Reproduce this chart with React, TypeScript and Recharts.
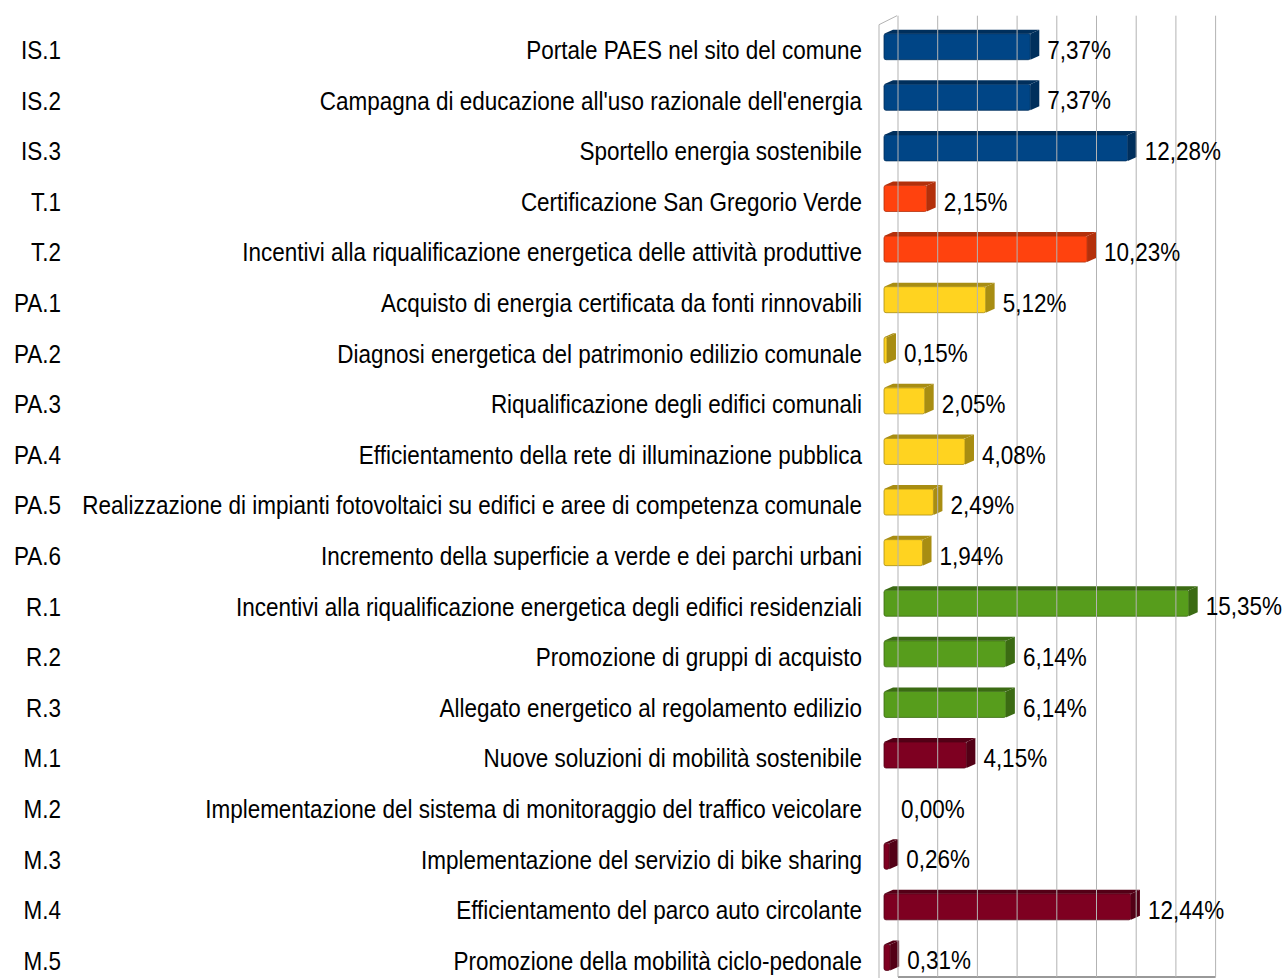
import { BarChart, Bar, XAxis, YAxis, ReferenceLine, ReferenceArea, LabelList } from "recharts";

const codes = [
  "IS.1", "IS.2", "IS.3", "T.1", "T.2", "PA.1", "PA.2", "PA.3", "PA.4", "PA.5",
  "PA.6", "R.1", "R.2", "R.3", "M.1", "M.2", "M.3", "M.4", "M.5",
];

const descriptions = [
  "Portale PAES nel sito del comune",
  "Campagna di educazione all'uso razionale dell'energia",
  "Sportello energia sostenibile",
  "Certificazione San Gregorio Verde",
  "Incentivi alla riqualificazione energetica delle attività produttive",
  "Acquisto di energia certificata da fonti rinnovabili",
  "Diagnosi energetica del patrimonio edilizio comunale",
  "Riqualificazione degli edifici comunali",
  "Efficientamento della rete di illuminazione pubblica",
  "Realizzazione di impianti fotovoltaici su edifici e aree di competenza comunale",
  "Incremento della superficie a verde e dei parchi urbani",
  "Incentivi alla riqualificazione energetica degli edifici residenziali",
  "Promozione di gruppi di acquisto",
  "Allegato energetico al regolamento edilizio",
  "Nuove soluzioni di mobilità sostenibile",
  "Implementazione del sistema di monitoraggio del traffico veicolare",
  "Implementazione del servizio di bike sharing",
  "Efficientamento del parco auto circolante",
  "Promozione della mobilità ciclo-pedonale",
];

const values = [
  7.37, 7.37, 12.28, 2.15, 10.23, 5.12, 0.15, 2.05, 4.08, 2.49,
  1.94, 15.35, 6.14, 6.14, 4.15, 0.0, 0.26, 12.44, 0.31,
];

const xTicks = [0, 2, 4, 6, 8, 10, 12, 14, 16];

// front / side colour per action group
const groupColors: Record<string, [string, string]> = {
  IS: ["#004586", "#002f5c"],
  T: ["#ff420e", "#b3300b"],
  PA: ["#ffd320", "#a88d12"],
  R: ["#579d1c", "#3b6b13"],
  M: ["#7e0021", "#530016"],
};

const data = codes.map((code, i) => ({ code, desc: descriptions[i], value: values[i] }));

const FONT = "'Liberation Sans', Arial, sans-serif";
const SX = 0.865; // the original font is a narrowed Arial
const DX = 18; // depth of the back wall
const DY = 9;

const fmt = (v: number) => v.toFixed(2).replace(".", ",") + "%";

function Bar3D(props: any) {
  const { x, y, width, height, payload } = props;
  if (!width || width <= 0) return null;
  const [front, side] = groupColors[payload.code.split(".")[0]];
  const fx = x + 4;
  const fy = y - 3;
  const d = 9;
  const e = 4;
  return (
    <g>
      <path
        d={`M${fx},${fy} L${fx + d},${fy - e} L${fx + width + d},${fy - e} L${fx + width},${fy} Z`}
        fill={side}
      />
      <path
        d={`M${fx + width},${fy} L${fx + width + d},${fy - e} L${fx + width + d},${fy + height - e} L${fx + width},${fy + height} Z`}
        fill={side}
      />
      <rect x={fx} y={fy} width={width} height={height} rx={2} fill={front} stroke={side} strokeWidth={0.8} />
    </g>
  );
}

function GridLine(props: any) {
  const { x1, y1, y2 } = props;
  return <line x1={x1 + DX} y1={y1 - DY} x2={x1 + DX} y2={y2 - DY} stroke="#b3b3b3" strokeWidth={1} />;
}

function Walls(props: any) {
  const { x, y, width, height } = props;
  return (
    <g fill="none" stroke="#b3b3b3" strokeWidth={1}>
      <line x1={x - 1} y1={y} x2={x - 1} y2={y + height + 10} />
      <line x1={x - 1} y1={y} x2={x - 1 + DX} y2={y - DY} />
      <line x1={x + DX} y1={y + height - DY} x2={x + width + DX} y2={y + height - DY} stroke="#999" strokeWidth={2} />
    </g>
  );
}

function NarrowText({ x, y, anchor, children }: any) {
  return (
    <text
      transform={`translate(${x} ${y}) scale(${SX} 1)`}
      textAnchor={anchor}
      dominantBaseline="central"
      fontFamily={FONT}
      fontSize={26}
      fill="#000"
    >
      {children}
    </text>
  );
}

function CategoryTick(props: any) {
  const { y, payload } = props;
  const row = data[payload.index] ?? data.find((r) => r.code === payload.value);
  return (
    <g>
      <NarrowText x={61} y={y} anchor="end">{payload.value}</NarrowText>
      <NarrowText x={862} y={y} anchor="end">{row ? row.desc : ""}</NarrowText>
    </g>
  );
}

function ValueLabel(props: any) {
  const { x, y, width, height, value } = props;
  return (
    <NarrowText x={x + width + 21} y={y + height / 2} anchor="start">
      {fmt(value)}
    </NarrowText>
  );
}

export default function App() {
  return (
    <div style={{ position: "absolute", left: 0, top: 0, width: 1282, height: 978, overflow: "hidden", background: "#fff" }}>
      <BarChart
        width={1282}
        height={986}
        data={data}
        layout="vertical"
        margin={{ top: 24.7, right: 84.4, bottom: 0, left: 0 }}
        barSize={26}
      >
        <XAxis type="number" domain={[0, 16]} ticks={xTicks} hide />
        <YAxis
          type="category"
          dataKey="code"
          width={880}
          axisLine={false}
          tickLine={false}
          interval={0}
          tick={<CategoryTick />}
        />
        <ReferenceArea x1={0} x2={16} fill="none" shape={<Walls />} ifOverflow="visible" />
        {xTicks.map((t) => (
          <ReferenceLine key={t} x={t} shape={<GridLine />} ifOverflow="visible" />
        ))}
        <Bar dataKey="value" shape={<Bar3D />} isAnimationActive={false}>
          <LabelList dataKey="value" content={<ValueLabel />} />
        </Bar>
      </BarChart>
    </div>
  );
}
